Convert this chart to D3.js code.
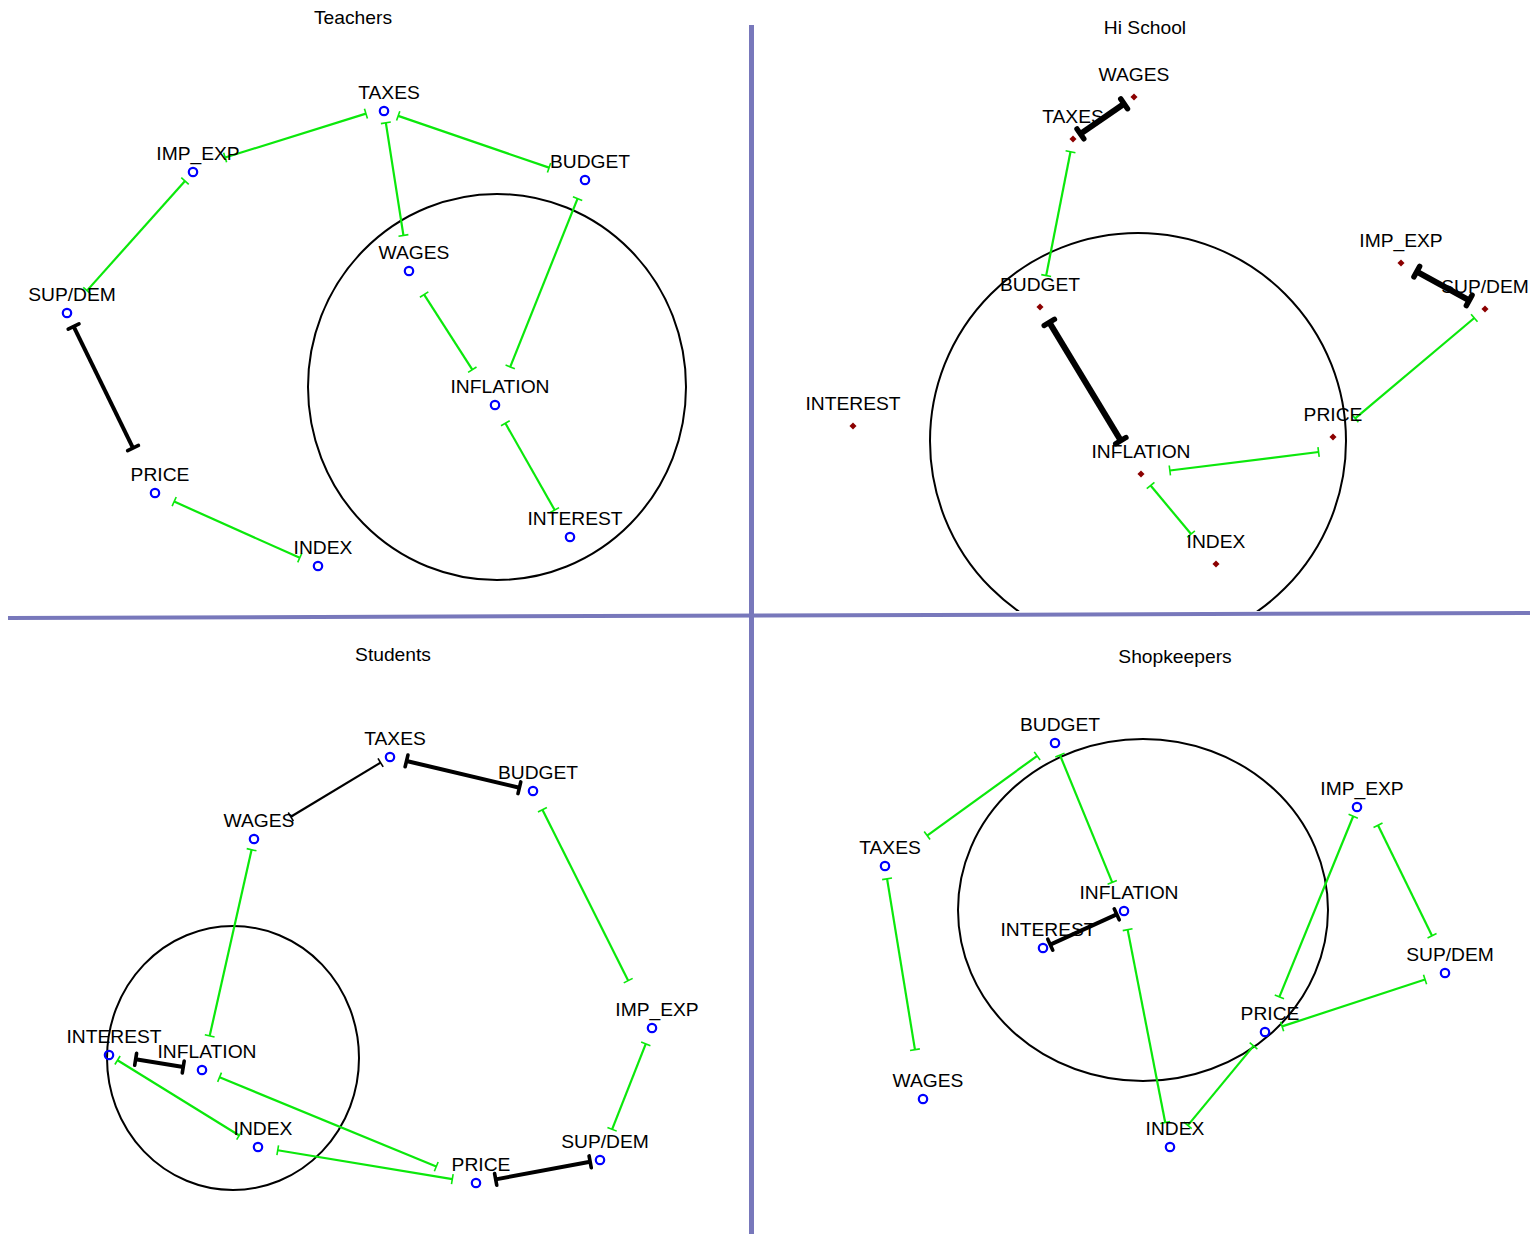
<!DOCTYPE html>
<html>
<head>
<meta charset="utf-8">
<script src="https://cdn.jsdelivr.net/npm/d3@7"></script>
<style>
  body { margin: 0; background: #fff; }
  text { font-family: "Liberation Sans", Arial, sans-serif; font-size: 17.5px; fill: #000; }
</style>
</head>
<body>
<div class="maps"></div>
<script>

// concepts, same order for every group
var concepts = ["TAXES", "IMP_EXP", "SUP/DEM", "PRICE", "INDEX", "WAGES", "BUDGET", "INFLATION", "INTEREST"];

// node positions per group (local map units)
var teachersX = [384, 193, 67, 155, 318, 409, 585, 495, 570];
var teachersY = [111, 172, 313, 493, 566, 271, 180, 405, 537];
var hiSchoolX = [319, 647, 731, 579, 462, 380, 286, 387, 99];
var hiSchoolY = [139, 263, 309, 437, 564, 97, 307, 474, 426];
var studentsX = [390, 652, 600, 476, 258, 254, 533, 202, 109];
var studentsY = [137, 408, 540, 563, 527, 219, 171, 450, 435];
var shopkeepersX = [131, 603, 691, 511, 416, 169, 301, 370, 289];
var shopkeepersY = [246, 187, 353, 412, 527, 479, 123, 291, 328];

// links: [from, to, kind, gap at from end, gap at to end, side shift at from end, side shift at to end]
var teachersLinks = [
  ["IMP_EXP", "TAXES", "pos", 35, 18, 4, 3],
  ["TAXES", "BUDGET", "pos", 15, 38],
  ["TAXES", "WAGES", "pos", 12, 36],
  ["SUP/DEM", "IMP_EXP", "pos", 30, 12],
  ["SUP/DEM", "PRICE", "strong", 15, 50],
  ["WAGES", "INFLATION", "pos", 28, 42],
  ["BUDGET", "INFLATION", "pos", 20, 41],
  ["INFLATION", "INTEREST", "pos", 21, 31],
  ["PRICE", "INDEX", "pos", 21, 20]
];
var hiSchoolLinks = [
  ["TAXES", "WAGES", "strong", 9, 12],
  ["TAXES", "BUDGET", "pos", 13, 32],
  ["BUDGET", "INFLATION", "strong", 18, 39],
  ["IMP_EXP", "SUP/DEM", "strong", 18, 18],
  ["SUP/DEM", "PRICE", "pos", 14, 29],
  ["PRICE", "INFLATION", "pos", 17, 29, 12, 2],
  ["INFLATION", "INDEX", "pos", 15, 39]
];
var studentsLinks = [
  ["WAGES", "TAXES", "weak", 43, 11],
  ["TAXES", "BUDGET", "strong", 17, 14],
  ["BUDGET", "IMP_EXP", "pos", 21, 53],
  ["WAGES", "INFLATION", "pos", 11, 35],
  ["IMP_EXP", "SUP/DEM", "pos", 17, 33],
  ["INTEREST", "INFLATION", "strong", 27, 19],
  ["INTEREST", "INDEX", "pos", 10, 22],
  ["INFLATION", "PRICE", "pos", 19, 43],
  ["INDEX", "PRICE", "pos", 20, 24],
  ["PRICE", "SUP/DEM", "strong", 20, 10]
];
var shopkeepersLinks = [
  ["BUDGET", "TAXES", "pos", 22, 52],
  ["BUDGET", "INFLATION", "pos", 13, 31],
  ["TAXES", "WAGES", "pos", 13, 50],
  ["INTEREST", "INFLATION", "strong", 8, 8],
  ["INFLATION", "INDEX", "pos", 19, 25],
  ["IMP_EXP", "PRICE", "pos", 10, 38],
  ["IMP_EXP", "SUP/DEM", "pos", 26, 39, 10, 6],
  ["SUP/DEM", "PRICE", "pos", 21, 18],
  ["PRICE", "INDEX", "pos", 18, 28]
];

// the ring drawn on each map: [cx, cy, rx, ry]
var teachersRing = [497, 387, 189, 193];
var hiSchoolRing = [384, 441, 208, 208];
var studentsRing = [233, 438, 126, 132];
var shopkeepersRing = [389, 290, 185, 171];

var titles = ["Teachers", "Hi School", "Students", "Shopkeepers"];


var width = 1530, height = 1234;

var svg = d3.select(".maps")
  .append("svg")
    .attr("width", width)
    .attr("height", height);

var panels = [
  { title: titles[0], ox: 0,   oy: 0,   xs: teachersX,    ys: teachersY,    links: teachersLinks,    ring: teachersRing,
    titleX: 353, titleY: 24, ldx: 5, ldy: -12, dots: false, thick: 4 },
  { title: titles[1], ox: 754, oy: 0,   xs: hiSchoolX,    ys: hiSchoolY,    links: hiSchoolLinks,    ring: hiSchoolRing,
    titleX: 391, titleY: 34, ldx: 0, ldy: -16, dots: true, thick: 6 },
  { title: titles[2], ox: 0,   oy: 620, xs: studentsX,    ys: studentsY,    links: studentsLinks,    ring: studentsRing,
    titleX: 393, titleY: 41, ldx: 5, ldy: -12, dots: false, thick: 4 },
  { title: titles[3], ox: 754, oy: 620, xs: shopkeepersX, ys: shopkeepersY, links: shopkeepersLinks, ring: shopkeepersRing,
    titleX: 421, titleY: 43, ldx: 5, ldy: -12, dots: false, thick: 4 }
];

// clip for the upper right map (its ring runs under the divider)
svg.append("clipPath")
    .attr("id", "clipHi")
  .append("rect")
    .attr("x", 754).attr("y", 0)
    .attr("width", 776).attr("height", 611);

var green = "#0be80b";

panels.forEach(function(p, pi) {

  var x = d3.scaleLinear().domain([0, 750]).range([p.ox, p.ox + 750]);
  var y = d3.scaleLinear().domain([0, 610]).range([p.oy, p.oy + 610]);

  var nodes = concepts.map(function(c, i) {
    return { name: c, px: x(p.xs[i]), py: y(p.ys[i]) };
  });
  var byName = {};
  nodes.forEach(function(n) { byName[n.name] = n; });

  var g = svg.append("g");
  if (pi == 1) g.attr("clip-path", "url(#clipHi)");

  // title
  g.append("text")
    .attr("transform", "translate(" + x(p.titleX) + "," + y(p.titleY) + ") scale(1.1,1)")
    .attr("text-anchor", "middle")
    .text(p.title);

  // ring
  g.append("ellipse")
    .attr("cx", x(p.ring[0]))
    .attr("cy", y(p.ring[1]))
    .attr("rx", x(p.ring[2]) - x(0))
    .attr("ry", y(p.ring[3]) - y(0))
    .style("fill", "none")
    .style("stroke", "#000")
    .style("stroke-width", 2);

  // links with T ends
  p.links.forEach(function(l) {
    var a = byName[l[0]], b = byName[l[1]];
    var dx = b.px - a.px, dy = b.py - a.py;
    var len = Math.sqrt(dx * dx + dy * dy);
    var ux = dx / len, uy = dy / len;
    var s0 = l[5] || 0, s1 = l[6] || 0;
    var x0 = a.px + ux * l[3] + uy * s0, y0 = a.py + uy * l[3] - ux * s0;
    var x1 = b.px - ux * l[4] + uy * s1, y1 = b.py - uy * l[4] - ux * s1;

    // direction of the drawn segment, for the T bars
    var ex = x1 - x0, ey = y1 - y0;
    var el = Math.sqrt(ex * ex + ey * ey);
    ex = ex / el; ey = ey / el;

    var color = l[2] == "pos" ? green : "#000";
    var sw = l[2] == "strong" ? p.thick : 2.2;
    var half = l[2] == "strong" ? 6 : 5;

    g.append("line")
      .attr("x1", x0).attr("y1", y0)
      .attr("x2", x1).attr("y2", y1)
      .style("stroke", color)
      .style("stroke-width", sw);

    [[x0, y0], [x1, y1]].forEach(function(e) {
      g.append("line")
        .attr("x1", e[0] - ey * half).attr("y1", e[1] + ex * half)
        .attr("x2", e[0] + ey * half).attr("y2", e[1] - ex * half)
        .style("stroke", color)
        .style("stroke-width", l[2] == "strong" ? sw * 0.9 : 1.6)
        .style("stroke-linecap", l[2] == "strong" ? "round" : "butt");
    });
  });

  // nodes
  if (p.dots) {
    g.selectAll()
      .data(nodes)
      .enter()
      .append("rect")
      .attr("x", function(d) { return d.px - 2.5 })
      .attr("y", function(d) { return d.py - 2.5 })
      .attr("width", 5).attr("height", 5)
      .attr("transform", function(d) { return "rotate(45," + d.px + "," + d.py + ")" })
      .style("fill", "#8b0000");
  } else {
    g.selectAll()
      .data(nodes)
      .enter()
      .append("circle")
      .attr("cx", function(d) { return d.px })
      .attr("cy", function(d) { return d.py })
      .attr("r", 4.2)
      .style("fill", "none")
      .style("stroke", "#0000ff")
      .style("stroke-width", 2.2);
  }

  // labels
  g.selectAll()
    .data(nodes)
    .enter()
    .append("text")
    .attr("transform", function(d) {
      return "translate(" + (d.px + p.ldx) + "," + (d.py + p.ldy) + ") scale(1.1,1)";
    })
    .attr("text-anchor", "middle")
    .text(function(d) { return d.name });
});

// dividers between the four maps
svg.append("line")
  .attr("x1", 751.5).attr("y1", 25)
  .attr("x2", 751.5).attr("y2", height)
  .style("stroke", "#7878bb")
  .style("stroke-width", 5);

svg.append("line")
  .attr("x1", 8).attr("y1", 618)
  .attr("x2", width).attr("y2", 613)
  .style("stroke", "#7878bb")
  .style("stroke-width", 4);

</script>
</body>
</html>
